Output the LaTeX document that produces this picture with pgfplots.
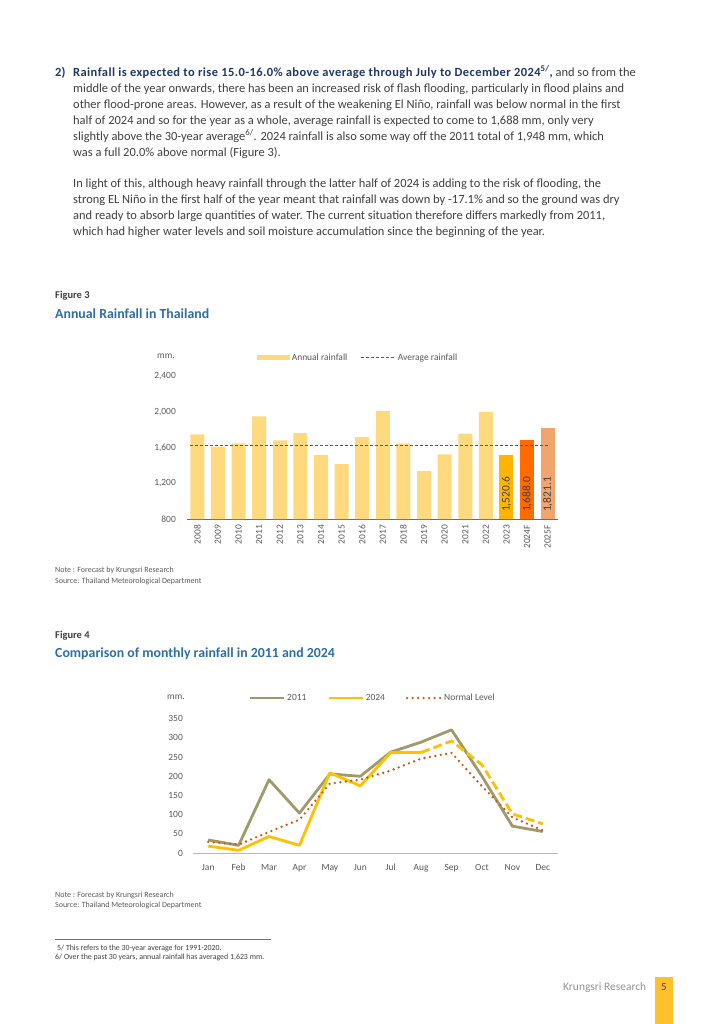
\documentclass[border=0pt]{standalone}
\usepackage{fontspec}
\setmainfont{Carlito}
\usepackage{pgfplots}
\pgfplotsset{compat=1.18}

\definecolor{navy}{HTML}{1F3864}
\definecolor{bodytxt}{HTML}{404040}
\definecolor{figblue}{HTML}{2F6EA5}
\definecolor{barlight}{HTML}{FFD97E}
\definecolor{bar23}{HTML}{FFB400}
\definecolor{bar24}{HTML}{FF6B00}
\definecolor{bar25}{HTML}{F0A46E}
\definecolor{avgline}{HTML}{595959}
\definecolor{ticktxt}{HTML}{595959}
\definecolor{line11}{HTML}{A0996B}
\definecolor{line24}{HTML}{FFC000}
\definecolor{normal}{HTML}{C55A11}
\definecolor{footgray}{HTML}{9E8F8F}
\definecolor{footgold}{HTML}{FFC12A}

\newcommand{\fs}[1]{\fontsize{#1}{#1}\selectfont}

\begin{document}
\begin{tikzpicture}[x=1bp,y=-1bp]
\path[use as bounding box, fill=white] (0,0) rectangle (709,1024);

% ---------- body text ----------
\begin{scope}[every node/.style={anchor=base west, inner sep=0pt, text=bodytxt, font=\fs{12.5}}]
\node[text=navy, font=\fs{12.5}\bfseries] at (55,76) {2)};
\node at (73,76) {\textcolor{navy}{\bfseries\addfontfeature{LetterSpace=3.5}Rainfall is expected to rise 15.0-16.0\% above average through July to December 2024\textsuperscript{5/},} and so from the};
\node at (73,92) {middle of the year onwards, there has been an increased risk of flash flooding, particularly in flood plains and};
\node at (73,108) {other flood-prone areas. However, as a result of the weakening El Niño, rainfall was below normal in the first};
\node at (73,124) {half of 2024 and so for the year as a whole, average rainfall is expected to come to 1,688 mm, only very};
\node at (73,140) {slightly above the 30-year average\textsuperscript{6/}. 2024 rainfall is also some way off the 2011 total of 1,948 mm, which};
\node at (73,156) {was a full 20.0\% above normal (Figure 3).};
\node at (73,187) {In light of this, although heavy rainfall through the latter half of 2024 is adding to the risk of flooding, the};
\node at (73,203) {strong EL Niño in the first half of the year meant that rainfall was down by -17.1\% and so the ground was dry};
\node at (73,219) {and ready to absorb large quantities of water. The current situation therefore differs markedly from 2011,};
\node at (73,235) {which had higher water levels and soil moisture accumulation since the beginning of the year.};
\end{scope}

% ---------- figure 3 headings ----------
\node[anchor=base west, inner sep=0pt, font=\fs{10.5}\bfseries, text=bodytxt] at (55,298) {Figure 3};
\node[anchor=base west, inner sep=0pt, font=\fs{13.9}\bfseries, text=figblue] at (55,318) {Annual Rainfall in Thailand};
\node[anchor=base west, inner sep=0pt, font=\fs{9.5}, text=ticktxt] at (157,358) {mm.};

\coordinate (c3) at (187,519);
\begin{axis}[
    at={(c3)}, anchor=south west,
    scale only axis, width=371bp, height=143bp,
    xmin=-0.5, xmax=17.5, ymin=800, ymax=2400,
    axis lines*=left,
    y axis line style={draw=none},
    x axis line style={draw=ticktxt!90, line width=1bp},
    major tick length=0pt,
    ytick={800,1200,1600,2000,2400},
    yticklabels={800,{1,200},{1,600},{2,000},{2,400}},
    xtick={0,...,17},
    xticklabels={2008,2009,2010,2011,2012,2013,2014,2015,2016,2017,2018,2019,2020,2021,2022,2023,2024F,2025F},
    tick label style={font=\fs{9.5}, text=ticktxt},
    yticklabel style={anchor=east, inner sep=0pt, inner xsep=11bp},
    xticklabel style={rotate=90, anchor=east, inner sep=0pt, inner xsep=6bp},
    ybar, bar width=14bp, bar shift=0pt,
    clip=false,
    legend columns=2,
    legend style={at={(0.461,1.129)}, anchor=center, draw=none, fill=none,
        font=\fs{9.5}, text=ticktxt, column sep=0pt,
        nodes={inner sep=1.5bp},
        /tikz/every even column/.append style={column sep=11bp}},
]
\addplot[fill=barlight, draw=none,
    legend image code/.code={\fill[barlight] (0bp,-2.5bp) rectangle (33bp,2.5bp);}]
coordinates {
(0,1747) (1,1610) (2,1646) (3,1948) (4,1680) (5,1762) (6,1516) (7,1415)
(8,1717) (9,2011) (10,1646) (11,1337) (12,1523) (13,1754) (14,2000)
};
\addlegendentry{Annual rainfall}
\addplot[fill=bar23, draw=none, forget plot] coordinates {(15,1520.6)};
\addplot[fill=bar24, draw=none, forget plot] coordinates {(16,1688.0)};
\addplot[fill=bar25, draw=none, forget plot] coordinates {(17,1821.1)};
\addplot[sharp plot, avgline, dash pattern=on 3bp off 2bp, line width=1.5bp,
    legend image code/.code={\draw[avgline, dash pattern=on 3bp off 2bp, line width=1.5bp] (0bp,0bp) -- (35bp,0bp);}]
coordinates {(-0.35,1623) (17,1623)};
\addlegendentry{Average rainfall}

\node[rotate=90, anchor=west, inner sep=0pt, font=\fs{11.5}, text=bodytxt] at (axis cs:15,878) {1,520.6};
\node[rotate=90, anchor=west, inner sep=0pt, font=\fs{11.5}, text=bodytxt] at (axis cs:16,878) {1,688.0};
\node[rotate=90, anchor=west, inner sep=0pt, font=\fs{11.5}, text=bodytxt] at (axis cs:17,878) {1,821.1};
\end{axis}

\node[anchor=base west, inner sep=0pt, font=\fs{8}, text=ticktxt] at (55,572) {Note : Forecast by Krungsri Research};
\node[anchor=base west, inner sep=0pt, font=\fs{8}, text=ticktxt] at (55,583) {Source: Thailand Meteorological Department};

% ---------- figure 4 headings ----------
\node[anchor=base west, inner sep=0pt, font=\fs{10.5}\bfseries, text=bodytxt] at (55,638) {Figure 4};
\node[anchor=base west, inner sep=0pt, font=\fs{13.9}\bfseries, text=figblue] at (55,657) {Comparison of monthly rainfall in 2011 and 2024};
\node[anchor=base west, inner sep=0pt, font=\fs{9.5}, text=ticktxt] at (167,699) {mm.};

\coordinate (c4) at (193,853);
\begin{axis}[
    at={(c4)}, anchor=south west,
    scale only axis, width=365bp, height=134.3bp,
    xmin=-0.5, xmax=11.5, ymin=0, ymax=350,
    axis lines*=left,
    y axis line style={draw=none},
    x axis line style={draw=black!28, line width=1bp},
    major tick length=0pt,
    ytick={0,50,100,150,200,250,300,350},
    yticklabels={0,50,100,150,200,250,300,350},
    xtick={0,...,11},
    xticklabels={Jan,Feb,Mar,Apr,May,Jun,Jul,Aug,Sep,Oct,Nov,Dec},
    tick label style={font=\fs{9.5}, text=ticktxt},
    yticklabel style={anchor=east, inner sep=0pt, inner xsep=10bp},
    xticklabel style={anchor=base, inner sep=0pt, yshift=-17bp},
    clip=false,
    legend columns=3,
    legend style={at={(0.492,1.154)}, anchor=center, draw=none, fill=none,
        font=\fs{9.5}, text=ticktxt, column sep=0pt,
        nodes={inner sep=1.8bp},
        /tikz/every even column/.append style={column sep=19bp}},
    legend image code/.code={\draw[#1] (0bp,0bp) -- (34bp,0bp);},
]
\addplot[line11, line width=2.8bp, line join=round] coordinates {
(0,34) (1,20) (2,191) (3,104) (4,206) (5,200) (6,263) (7,289) (8,321) (9,200) (10,70) (11,56)
};
\addlegendentry{2011}
\addplot[line24, line width=2.8bp, line join=round] coordinates {
(0,18) (1,7) (2,43) (3,20) (4,209) (5,175) (6,262) (7,262)
};
\addlegendentry{2024}
\addplot[line24, line width=2.8bp, line join=round, dash pattern=on 9bp off 4bp, forget plot] coordinates {
(7,262) (8,292) (9,230) (10,102) (11,76)
};
\addplot[normal, line width=2.6bp, line cap=round, dash pattern=on 0bp off 5.5bp] coordinates {
(0,29) (1,22) (2,55) (3,87) (4,181) (5,191) (6,215) (7,246) (8,261) (9,174) (10,93) (11,59)
};
\addlegendentry{Normal Level}
\end{axis}

\node[anchor=base west, inner sep=0pt, font=\fs{8}, text=ticktxt] at (55,897) {Note : Forecast by Krungsri Research};
\node[anchor=base west, inner sep=0pt, font=\fs{8}, text=ticktxt] at (55,907) {Source: Thailand Meteorological Department};

% ---------- footnotes ----------
\draw[black!55, line width=0.6bp] (55,939.5) -- (271,939.5);
\node[anchor=base west, inner sep=0pt, font=\fs{7.9}, text=bodytxt] at (57,950) {5/ This refers to the 30-year average for 1991-2020.};
\node[anchor=base west, inner sep=0pt, font=\fs{7.9}, text=bodytxt] at (55,959) {6/ Over the past 30 years, annual rainfall has averaged 1,623 mm.};

% ---------- footer ----------
\node[anchor=base west, inner sep=0pt, font=\fs{11.5}, text=footgray] at (563,990) {Krungsri Research};
\fill[footgold] (655,977) rectangle (673,1024);
\node[anchor=base, inner sep=0pt, font=\fs{11}, text=bodytxt] at (664,990) {5};
\end{tikzpicture}
\end{document}
